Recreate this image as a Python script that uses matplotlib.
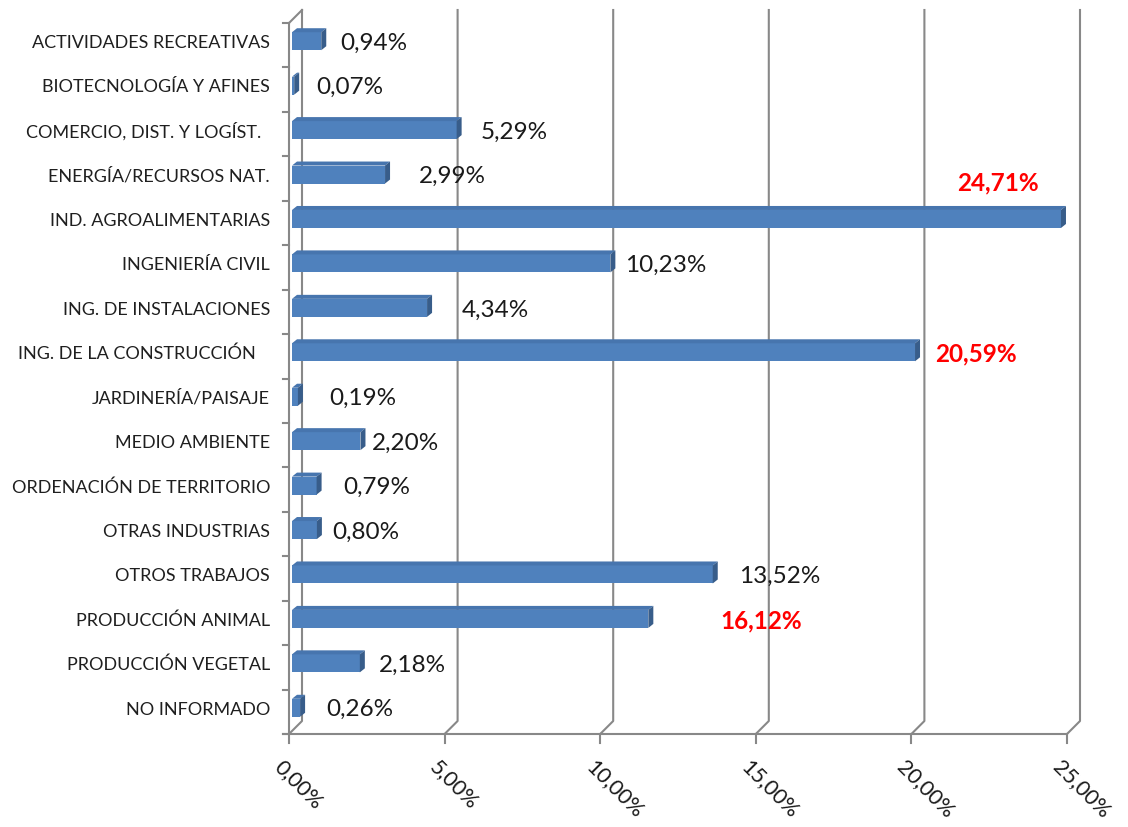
import matplotlib
matplotlib.use("Agg")
import matplotlib.pyplot as plt
from matplotlib.patches import Polygon
from matplotlib.lines import Line2D

# ---------------- data ----------------
categories = [
    "ACTIVIDADES RECREATIVAS",
    "BIOTECNOLOGÍA Y AFINES",
    "COMERCIO, DIST. Y LOGÍST.  ",
    "ENERGÍA/RECURSOS NAT.",
    "IND. AGROALIMENTARIAS",
    "INGENIERÍA CIVIL",
    "ING. DE INSTALACIONES",
    "ING. DE LA CONSTRUCCIÓN   ",
    "JARDINERÍA/PAISAJE",
    "MEDIO AMBIENTE",
    "ORDENACIÓN DE TERRITORIO",
    "OTRAS INDUSTRIAS",
    "OTROS TRABAJOS",
    "PRODUCCIÓN ANIMAL",
    "PRODUCCIÓN VEGETAL",
    "NO INFORMADO",
]
# bar lengths as drawn in the picture (%)
bar_values = [0.94, 0.07, 5.29, 2.99, 24.71, 10.23, 4.34, 20.02,
              0.19, 2.20, 0.79, 0.80, 13.52, 11.45, 2.18, 0.26]
# data label texts as printed
value_labels = ["0,94%", "0,07%", "5,29%", "2,99%", "24,71%", "10,23%", "4,34%", "20,59%",
                "0,19%", "2,20%", "0,79%", "0,80%", "13,52%", "16,12%", "2,18%", "0,26%"]
highlighted = [False, False, False, False, True, False, False, True,
               False, False, False, False, False, True, False, False]
x_ticks = [0, 5, 10, 15, 20, 25]
x_tick_labels = ["0,00%", "5,00%", "10,00%", "15,00%", "20,00%", "25,00%"]

# ---------------- layout (label placement, in % units / row offsets) ----------------
label_x = [2.73, 1.96, 7.23, 5.24, 22.78, 12.11, 6.62, 22.08,
           2.38, 3.73, 2.83, 2.47, 15.78, 15.17, 3.98, 2.28]
label_dy = [0, 0, 0, 0, -0.85, 0, 0, 0, 0, 0, 0, 0, 0, 0, 0, 0]

FONT = ["Lato", "DejaVu Sans"]
plt.rcParams["font.family"] = FONT

W_PX, H_PX = 1128, 827
fig = plt.figure(figsize=(W_PX / 100, H_PX / 100), dpi=100)
fig.patch.set_facecolor("white")

left_px, right_px, top_px, bot_px = 289, 1067, 23, 734
ax = fig.add_axes([left_px / W_PX, 1 - bot_px / H_PX,
                   (right_px - left_px) / W_PX, (bot_px - top_px) / H_PX])
n = len(categories)
ax.set_xlim(0, 25)
ax.set_ylim(n - 0.5, -0.5)
ax.axis("off")

px_x = (right_px - left_px) / 25.0     # pixels per %
px_y = (bot_px - top_px) / float(n)    # pixels per row

def dx(p):
    return p / px_x

def dy(p):  # positive p = up on screen
    return -p / px_y

grid_c = "#888888"
grid_lw = 1.5
back = 13  # px depth of back wall

# gridlines (back wall) with slanted floor connectors
for v in x_ticks:
    ax.add_line(Line2D([v + dx(back), v + dx(back), v],
                       [-0.5 + dy(back), n - 0.5 + dy(back), n - 0.5],
                       color=grid_c, lw=grid_lw, clip_on=False, zorder=1))
# left front axis line + top slant
ax.add_line(Line2D([0, 0], [-0.5, n - 0.5], color=grid_c, lw=grid_lw, clip_on=False, zorder=1))
ax.add_line(Line2D([0, dx(back)], [-0.5, -0.5 + dy(back)], color=grid_c, lw=grid_lw,
                   clip_on=False, zorder=1))
# left tick marks
for k in range(n + 1):
    ax.add_line(Line2D([0, dx(-6)], [k - 0.5, k - 0.5], color=grid_c, lw=grid_lw,
                       clip_on=False, zorder=1))
# bottom axis line + ticks
ax.add_line(Line2D([dx(-6), 25], [n - 0.5, n - 0.5], color=grid_c, lw=grid_lw,
                   clip_on=False, zorder=1))
for v in x_ticks:
    ax.add_line(Line2D([v, v], [n - 0.5, n - 0.5 + dy(-9)], color=grid_c, lw=grid_lw,
                       clip_on=False, zorder=1))

# bars (pseudo 3D)
front_c, top_c, side_c = "#4F81BD", "#4775AE", "#385D8A"
bar_h = 18 / px_y
depth_x, depth_y = 5, 4
x0 = dx(3)
for i, v in enumerate(bar_values):
    yc = i + dy(4)
    ax.barh(yc, v, height=bar_h, left=x0, color=front_c, edgecolor="none", zorder=3)
    ytop = yc - bar_h / 2
    ybot = yc + bar_h / 2
    xe = x0 + v
    top = Polygon([(x0, ytop), (xe, ytop), (xe + dx(depth_x), ytop + dy(depth_y)),
                   (x0 + dx(depth_x), ytop + dy(depth_y))],
                  closed=True, facecolor=top_c, edgecolor="none", zorder=3)
    side = Polygon([(xe, ytop), (xe + dx(depth_x), ytop + dy(depth_y)),
                    (xe + dx(depth_x), ybot + dy(depth_y)), (xe, ybot)],
                   closed=True, facecolor=side_c, edgecolor="none", zorder=3)
    ax.add_patch(top)
    ax.add_patch(side)

# value labels
for i, (txt, hx, hl, ddy) in enumerate(zip(value_labels, label_x, highlighted, label_dy)):
    ax.text(hx, i + ddy + dy(2), txt, ha="center", va="center",
            fontsize=17.5,
            fontweight="bold" if hl else "normal",
            color="#FF0000" if hl else "#1a1a1a", zorder=5, clip_on=False)

# category labels
for i, c in enumerate(categories):
    ax.text(dx(-19), i - 0.05, c, ha="right", va="center", fontsize=13,
            color="#1f1f1f", clip_on=False)

# x tick labels, rotated -45
for v, t in zip(x_ticks, x_tick_labels):
    ax.text(v + dx(-4), n - 0.5 + dy(-23), t, rotation=-45, rotation_mode="anchor",
            ha="left", va="top", fontsize=15.5, color="#1a1a1a", clip_on=False)

fig.savefig("out.png", dpi=100, facecolor="white")
